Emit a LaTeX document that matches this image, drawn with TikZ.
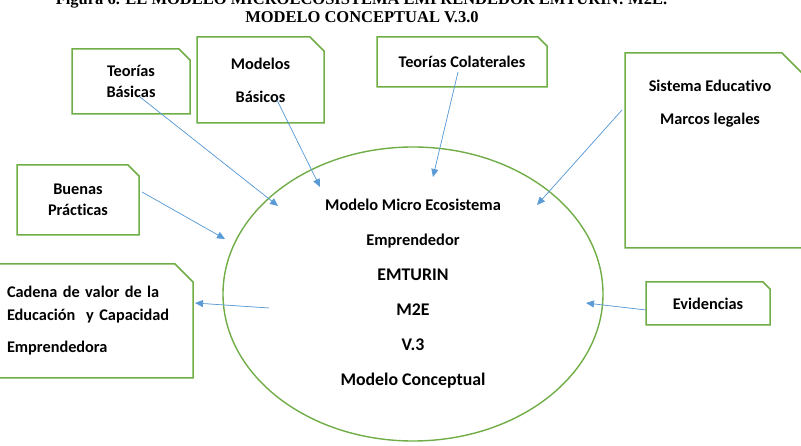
\documentclass[tikz,border=0pt]{standalone}
\usepackage{fontspec}
\setmainfont{Carlito}[Ligatures=NoCommon]
\newfontfamily\titlefont{Liberation Serif}
\usetikzlibrary{shapes.geometric, arrows.meta, positioning}
\definecolor{cBox}{RGB}{112,173,71}
\definecolor{cArrow}{RGB}{91,155,213}
\tikzset{
    notebox/.style  ={rectangle, outer sep=0pt, inner sep=0pt, align=center, font={\bfseries\fontsize{16.3}{21}\selectfont}},
    boxline/.style  ={draw=cBox, line width=1.5pt, line join=miter},
    modelring/.style={ellipse, draw=cBox, line width=1.4pt, minimum width=380pt, minimum height=294pt, inner sep=0pt, align=center, font={\bfseries\fontsize{16.4}{35}\selectfont}},
    flowarrow/.style={-{Triangle[length=8pt,width=7pt]}, draw=cArrow, fill=cArrow, line width=0.7pt},
    titletext/.style={anchor=base, inner sep=0pt, font={\titlefont\bfseries\fontsize{16.5}{18}\selectfont}},
}
\begin{document}
\begin{tikzpicture}[x=1pt, y=-1pt]
    \useasboundingbox (0,0) rectangle (801,446);
    \clip (0,0) rectangle (801,446);

    % title (cut at the top of the figure)
    \node[titletext] (figtitle) at (361.5,5) {Figura 6. EL MODELO MICROECOSISTEMA EMPRENDEDOR EMTURIN: M2E.};
    \node[titletext] (subtitle) at (362,22.7) {MODELO CONCEPTUAL V.3.0};

    % central model
    \node[modelring] (mec) at (413,294) {Modelo Micro Ecosistema\\Emprendedor\\{\fontsize{17.8}{35}\selectfont EMTURIN}\\{\fontsize{17.8}{35}\selectfont M2E}\\{\fontsize{17.8}{35}\selectfont V.3}\\{\fontsize{17.8}{35}\selectfont Modelo Conceptual}};

    % surrounding notes
    \node[notebox, minimum width=118pt, minimum height=65pt] (tb) at (131,81.5) {Teorías\\Básicas};
    \node[notebox, minimum width=127pt, minimum height=86pt, font={\bfseries\fontsize{16.3}{33}\selectfont}] (mb) at (260.5,80) {Modelos\\Básicos};
    \node[notebox, minimum width=170pt, minimum height=50pt] (tc) at (462,62) {Teorías Colaterales};
    \node[notebox, minimum width=185pt, minimum height=195pt] (se) at (717.5,150.5) {};
    \node[notebox, font={\bfseries\fontsize{16.3}{33}\selectfont}] (setxt) at (710,103.5) {Sistema Educativo\\Marcos legales};
    \node[notebox, minimum width=122pt, minimum height=70pt] (bp) at (78,200) {Buenas\\Prácticas};
    \node[notebox, align=left, text width=178pt, minimum width=194pt, minimum height=114pt, font={\bfseries\fontsize{16.3}{23}\selectfont}] (cv) at (96,321) {Cadena de valor de la\\Educación\ \ y Capacidad\\[9pt]Emprendedora};
    \node[notebox, minimum width=124pt, minimum height=43pt] (ev) at (708,303.5) {Evidencias};

    \foreach \n/\cut in {tb/11, mb/14, tc/9, se/28, bp/11, cv/18, ev/7}
        \draw[boxline] (\n.south west) -- (\n.north west) -- ([xshift=-\cut pt]\n.north east) -- ([yshift=-\cut pt]\n.north east) -- (\n.south east) -- cycle;

    % arrow ends
    \coordinate (tb-out) at (140,97);
    \coordinate (tb-in)  at (278,206);
    \coordinate (mb-out) at (277,100);
    \coordinate (mb-in)  at (320,187);
    \coordinate (tc-out) at (458,72);
    \coordinate (tc-in)  at (433,177);
    \coordinate (se-out) at (622,110);
    \coordinate (se-in)  at (537,205);
    \coordinate (bp-out) at (142,192);
    \coordinate (bp-in)  at (225,239);
    \coordinate (mec-out) at (269,308);
    \coordinate (cv-in)  at (195,303);
    \coordinate (ev-out) at (646,310);
    \coordinate (ev-in)  at (586,303);

    \draw[flowarrow] (tb-out) -- (tb-in);
    \draw[flowarrow] (mb-out) -- (mb-in);
    \draw[flowarrow] (tc-out) -- (tc-in);
    \draw[flowarrow] (se-out) -- (se-in);
    \draw[flowarrow] (bp-out) -- (bp-in);
    \draw[flowarrow] (mec-out) -- (cv-in);
    \draw[flowarrow] (ev-out) -- (ev-in);
\end{tikzpicture}
\end{document}
